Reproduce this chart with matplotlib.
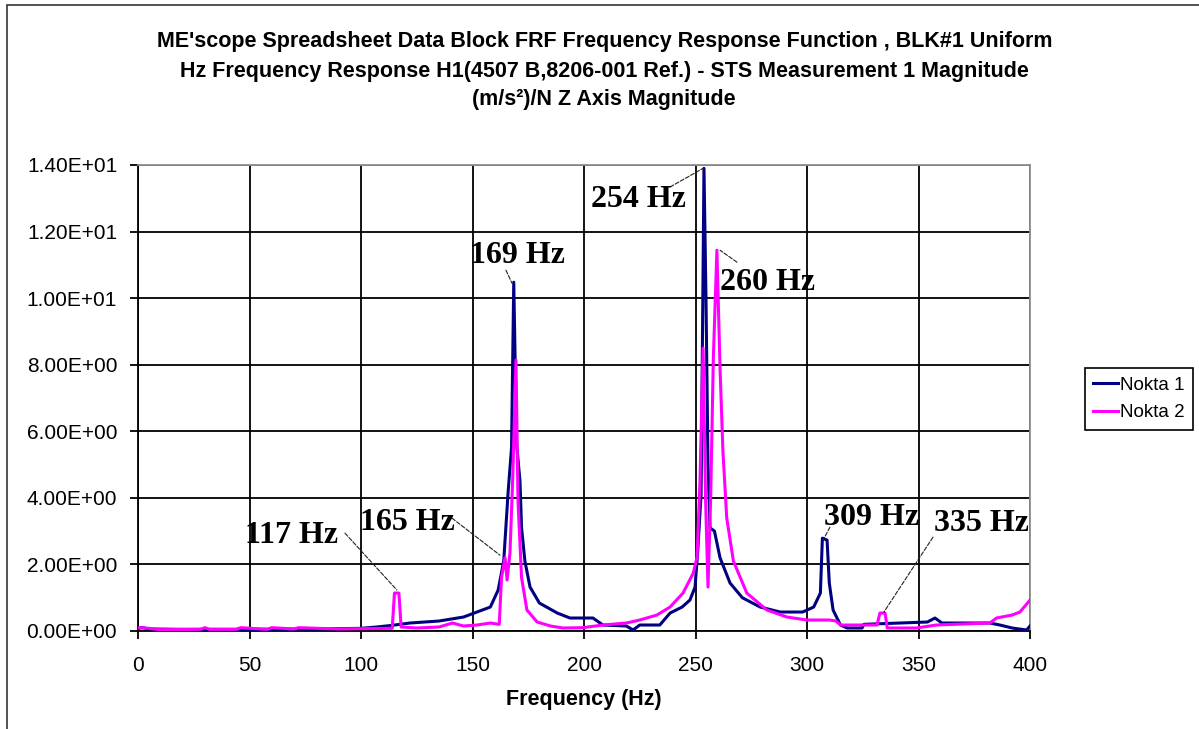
import matplotlib
matplotlib.use("Agg")
import matplotlib.pyplot as plt
from matplotlib.patches import Rectangle
from matplotlib.ticker import FuncFormatter, MultipleLocator

# Nokta 1 (navy) - frequency (Hz) and magnitude
nokta1_freq = [0, 2, 5, 20, 50, 80, 100, 107, 114, 122, 135, 146, 152, 158, 161.5, 164,
               166, 167.5, 168.5, 169.8, 171.3, 172, 173.5, 175.8, 180, 188, 193.7, 204,
               208.5, 219, 222, 225, 234, 238.6, 244, 247.5, 249.8, 251, 252.5, 253.8,
               254.7, 255.6, 256.5, 258.5, 261, 265.5, 271, 279, 288, 298, 303, 306,
               306.9, 309, 310, 311.7, 315, 318, 324.7, 325.5, 341.7, 354, 357.4, 360.5,
               382, 386.5, 392, 398.5, 400]
nokta1_mag = [0.08, 0.1, 0.06, 0.05, 0.05, 0.06, 0.08, 0.12, 0.17, 0.24, 0.3, 0.42, 0.57,
              0.72, 1.23, 2.1, 4.2, 5.5, 10.48, 5.6, 4.5, 3.1, 2.1, 1.32, 0.84, 0.54, 0.39,
              0.39, 0.18, 0.15, 0.03, 0.18, 0.18, 0.54, 0.72, 0.93, 1.32, 2.4, 4.1, 13.9,
              10.0, 5.0, 3.1, 3.0, 2.2, 1.44, 1.0, 0.72, 0.57, 0.57, 0.72, 1.14, 2.79, 2.73,
              1.44, 0.63, 0.18, 0.09, 0.09, 0.2, 0.24, 0.27, 0.39, 0.24, 0.24, 0.18, 0.09,
              0.03, 0.15]

# Nokta 2 (magenta)
nokta2_freq = [0, 5, 10, 28, 30, 32, 44, 46, 58, 60, 70, 72, 90, 100, 114, 115, 117, 118,
               125, 135, 141, 146, 152, 158, 162, 163, 164.6, 165.5, 166.8, 168, 169.5,
               170.4, 172, 174.4, 179, 185, 190.6, 199.5, 208.5, 219, 225, 232.7, 238.6,
               244.4, 249, 250.7, 252, 253.4, 254.5, 255.6, 256.8, 258, 259.6, 261, 262.3,
               264, 267, 273, 282, 291, 300, 310, 313, 315, 331.4, 332.7, 335, 336, 349,
               358, 382, 385, 392, 395.5, 400]
nokta2_mag = [0.1, 0.08, 0.04, 0.05, 0.1, 0.05, 0.05, 0.1, 0.05, 0.1, 0.06, 0.1, 0.06, 0.07,
              0.08, 1.14, 1.14, 0.12, 0.09, 0.12, 0.24, 0.15, 0.18, 0.24, 0.2, 1.6, 2.2,
              1.53, 2.34, 4.5, 8.14, 3.9, 1.6, 0.63, 0.27, 0.15, 0.09, 0.1, 0.18, 0.24,
              0.33, 0.48, 0.72, 1.14, 1.74, 2.22, 4.5, 8.5, 4.0, 1.32, 4.0, 8.2, 11.44, 7.9,
              5.4, 3.4, 2.1, 1.14, 0.63, 0.42, 0.33, 0.33, 0.3, 0.18, 0.18, 0.54, 0.54,
              0.09, 0.09, 0.18, 0.24, 0.39, 0.48, 0.57, 0.93]

series_names = ["Nokta 1", "Nokta 2"]

# peak labels: text, label centre, leader start, leader end (data coords)
peak_labels = [
    ("117 Hz", (69, 2.88), (92.8, 2.94), (116.1, 1.23)),
    ("165 Hz", (120.6, 3.27), (140.8, 3.39), (162.3, 2.28)),
    ("169 Hz", (170, 11.29), (165, 10.84), (167.7, 10.45)),
    ("254 Hz", (224.2, 12.95), (238.6, 13.34), (253.4, 13.9)),
    ("260 Hz", (282.5, 10.48), (268.6, 11.08), (261, 11.44)),
    ("309 Hz", (328.7, 3.42), (310.3, 3.12), (307.2, 2.73)),
    ("335 Hz", (378, 3.24), (356.5, 2.82), (334.5, 0.57)),
]

title_lines = [
    "ME'scope Spreadsheet Data Block FRF Frequency Response Function , BLK#1 Uniform",
    "Hz Frequency Response H1(4507 B,8206-001 Ref.) - STS Measurement 1 Magnitude",
    "(m/s\u00b2)/N Z Axis Magnitude",
]

plt.rcParams['font.family'] = ['Liberation Sans', 'DejaVu Sans']

fig = plt.figure(figsize=(11.99, 7.29), dpi=100)
ax = fig.add_axes([138 / 1199, 1 - 631 / 729, (1030 - 138) / 1199, (631 - 165) / 729])

# outer chart-area border
fig.patches.append(Rectangle((7 / 1199, -0.05), 1.2, 1.05 - 5 / 729, transform=fig.transFigure,
                             fill=False, edgecolor='#333333', linewidth=1.2))

ax.plot(nokta1_freq, nokta1_mag, color='#000080', linewidth=2.2, label=series_names[0], zorder=3)
ax.plot(nokta2_freq, nokta2_mag, color='#FF00FF', linewidth=2.2, label=series_names[1], zorder=3)

ax.set_xlim(0, 400)
ax.set_ylim(0, 14)
ax.xaxis.set_major_locator(MultipleLocator(50))
ax.yaxis.set_major_locator(MultipleLocator(2))
ax.yaxis.set_major_formatter(FuncFormatter(lambda v, p: f"{v:.2E}"))
ax.grid(True, color='black', linewidth=1.3)
ax.set_axisbelow(True)
ax.tick_params(axis='both', direction='out', length=6, width=1.3, labelsize=15, color='black')
ax.tick_params(axis='y', pad=9)
ax.tick_params(axis='x', pad=12)
for side in ['top', 'right']:
    ax.spines[side].set_color('#909090')
    ax.spines[side].set_linewidth(1.3)
for side in ['left', 'bottom']:
    ax.spines[side].set_color('black')
    ax.spines[side].set_linewidth(1.3)

ax.set_xlabel("Frequency (Hz)", fontsize=15.5, fontweight='bold', labelpad=10)

for text, pos, start, end in peak_labels:
    ax.annotate('', xy=end, xytext=start,
                arrowprops=dict(arrowstyle='-', color='#222222', lw=0.8, ls='--',
                                shrinkA=0, shrinkB=0), zorder=4)
    ax.text(pos[0], pos[1], text, ha='center', va='center', fontsize=23,
            fontweight='bold', family='Liberation Serif', zorder=5)

ys = [1 - 42 / 729, 1 - 72 / 729, 1 - 100 / 729]
for line, y in zip(title_lines, ys):
    fig.text(0.504, y, line, ha='center', va='center', fontsize=15.5, fontweight='bold')

leg = ax.legend(loc='center left', bbox_to_anchor=(1085 / 1199, 1 - 399 / 729),
                bbox_transform=fig.transFigure, fontsize=13.5, frameon=True, fancybox=False,
                edgecolor='black', framealpha=1, handlelength=1.3, handletextpad=0.1,
                borderpad=0.45, labelspacing=0.55, borderaxespad=0)
leg.get_frame().set_linewidth(1.2)

fig.savefig("out.png", dpi=100)
